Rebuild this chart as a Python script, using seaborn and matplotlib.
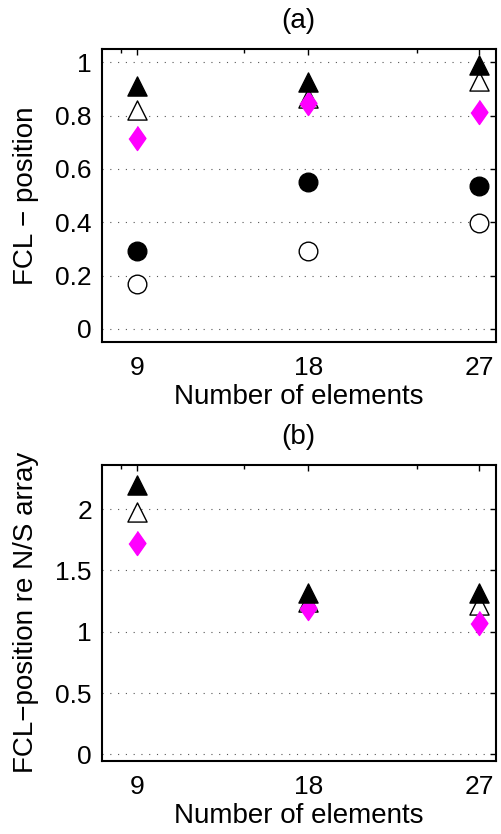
import pandas as pd
import seaborn as sns
import matplotlib.pyplot as plt
from matplotlib.ticker import FixedLocator

# Values
n_elements = [9, 18, 27]

# (a) FCL - position
a_filled_tri = [0.91, 0.927, 0.992]
a_open_tri = [0.822, 0.868, 0.93]
a_diamond = [0.717, 0.849, 0.815]
a_filled_circ = [0.292, 0.552, 0.537]
a_open_circ = [0.169, 0.292, 0.399]

# (b) FCL-position re N/S array
b_filled_tri = [2.195, 1.312, 1.317]
b_open_tri = [1.98, 1.24, 1.222]
b_diamond = [1.725, 1.19, 1.073]

sns.set_style("white")
plt.rcParams["font.family"] = ["Liberation Sans", "DejaVu Sans"]
plt.rcParams.update({
    "text.color": "black",
    "axes.labelcolor": "black",
    "xtick.color": "black",
    "ytick.color": "black",
})

diamond = [(0, 1), (0.7, 0), (0, -1), (-0.7, 0)]

# marker styles per series: (marker, face, edge, size)
styles = {
    "open_circ": ("o", "white", "black", 180),
    "filled_circ": ("o", "black", "black", 180),
    "open_tri": ("^", "white", "black", 190),
    "diamond": (diamond, "#ff00ff", "#ff00ff", 300),
    "filled_tri": ("^", "black", "black", 190),
}

panel_a = {
    "open_circ": a_open_circ,
    "filled_circ": a_filled_circ,
    "open_tri": a_open_tri,
    "diamond": a_diamond,
    "filled_tri": a_filled_tri,
}
panel_b = {
    "open_tri": b_open_tri,
    "diamond": b_diamond,
    "filled_tri": b_filled_tri,
}

fig = plt.figure(figsize=(5.02, 8.34), dpi=100)
ax_a = fig.add_axes([0.2026, 0.5896, 0.785, 0.3516])
ax_b = fig.add_axes([0.2026, 0.0879, 0.785, 0.3545])


def draw_panel(ax, series):
    for name, vals in series.items():
        marker, face, edge, size = styles[name]
        df = pd.DataFrame({"n": n_elements, "v": vals})
        sns.scatterplot(
            data=df, x="n", y="v", ax=ax, marker=marker, s=size,
            color=face, edgecolor=edge, linewidth=1.0, zorder=3,
        )
    ax.set_xlim(7.125, 27.88)
    ax.set_xticks(n_elements)
    ax.xaxis.set_minor_locator(FixedLocator([8.14, 14.62, 23.73]))
    ax.tick_params(which="both", direction="in", top=True, right=True,
                   length=4, width=1, labelsize=19)
    ax.tick_params(which="minor", length=3)
    ax.tick_params(axis="x", pad=10)
    ax.tick_params(axis="y", pad=7)
    ax.yaxis.grid(True, linestyle=(0, (1, 6)), color="#555555", linewidth=0.8)
    for sp in ax.spines.values():
        sp.set_linewidth(1.5)
        sp.set_color("black")
    ax.set_xlabel("Number of elements", fontsize=20, labelpad=3)


draw_panel(ax_a, panel_a)
ax_a.set_ylim(-0.05, 1.05)
ax_a.set_yticks([0, 0.2, 0.4, 0.6, 0.8, 1])
ax_a.set_yticklabels(["0", "0.2", "0.4", "0.6", "0.8", "1"])
ax_a.set_ylabel("FCL \u2212 position", fontsize=20, labelpad=12)
ax_a.set_title("(a)", fontsize=20, pad=15)

draw_panel(ax_b, panel_b)
ax_b.set_ylim(-0.052, 2.36)
ax_b.set_yticks([0, 0.5, 1, 1.5, 2])
ax_b.set_yticklabels(["0", "0.5", "1", "1.5", "2"])
ax_b.set_ylabel("FCL\u2212position re N/S array", fontsize=20, labelpad=12)
ax_b.set_title("(b)", fontsize=20, pad=15)

fig.savefig("out.png", dpi=100, facecolor="white")
